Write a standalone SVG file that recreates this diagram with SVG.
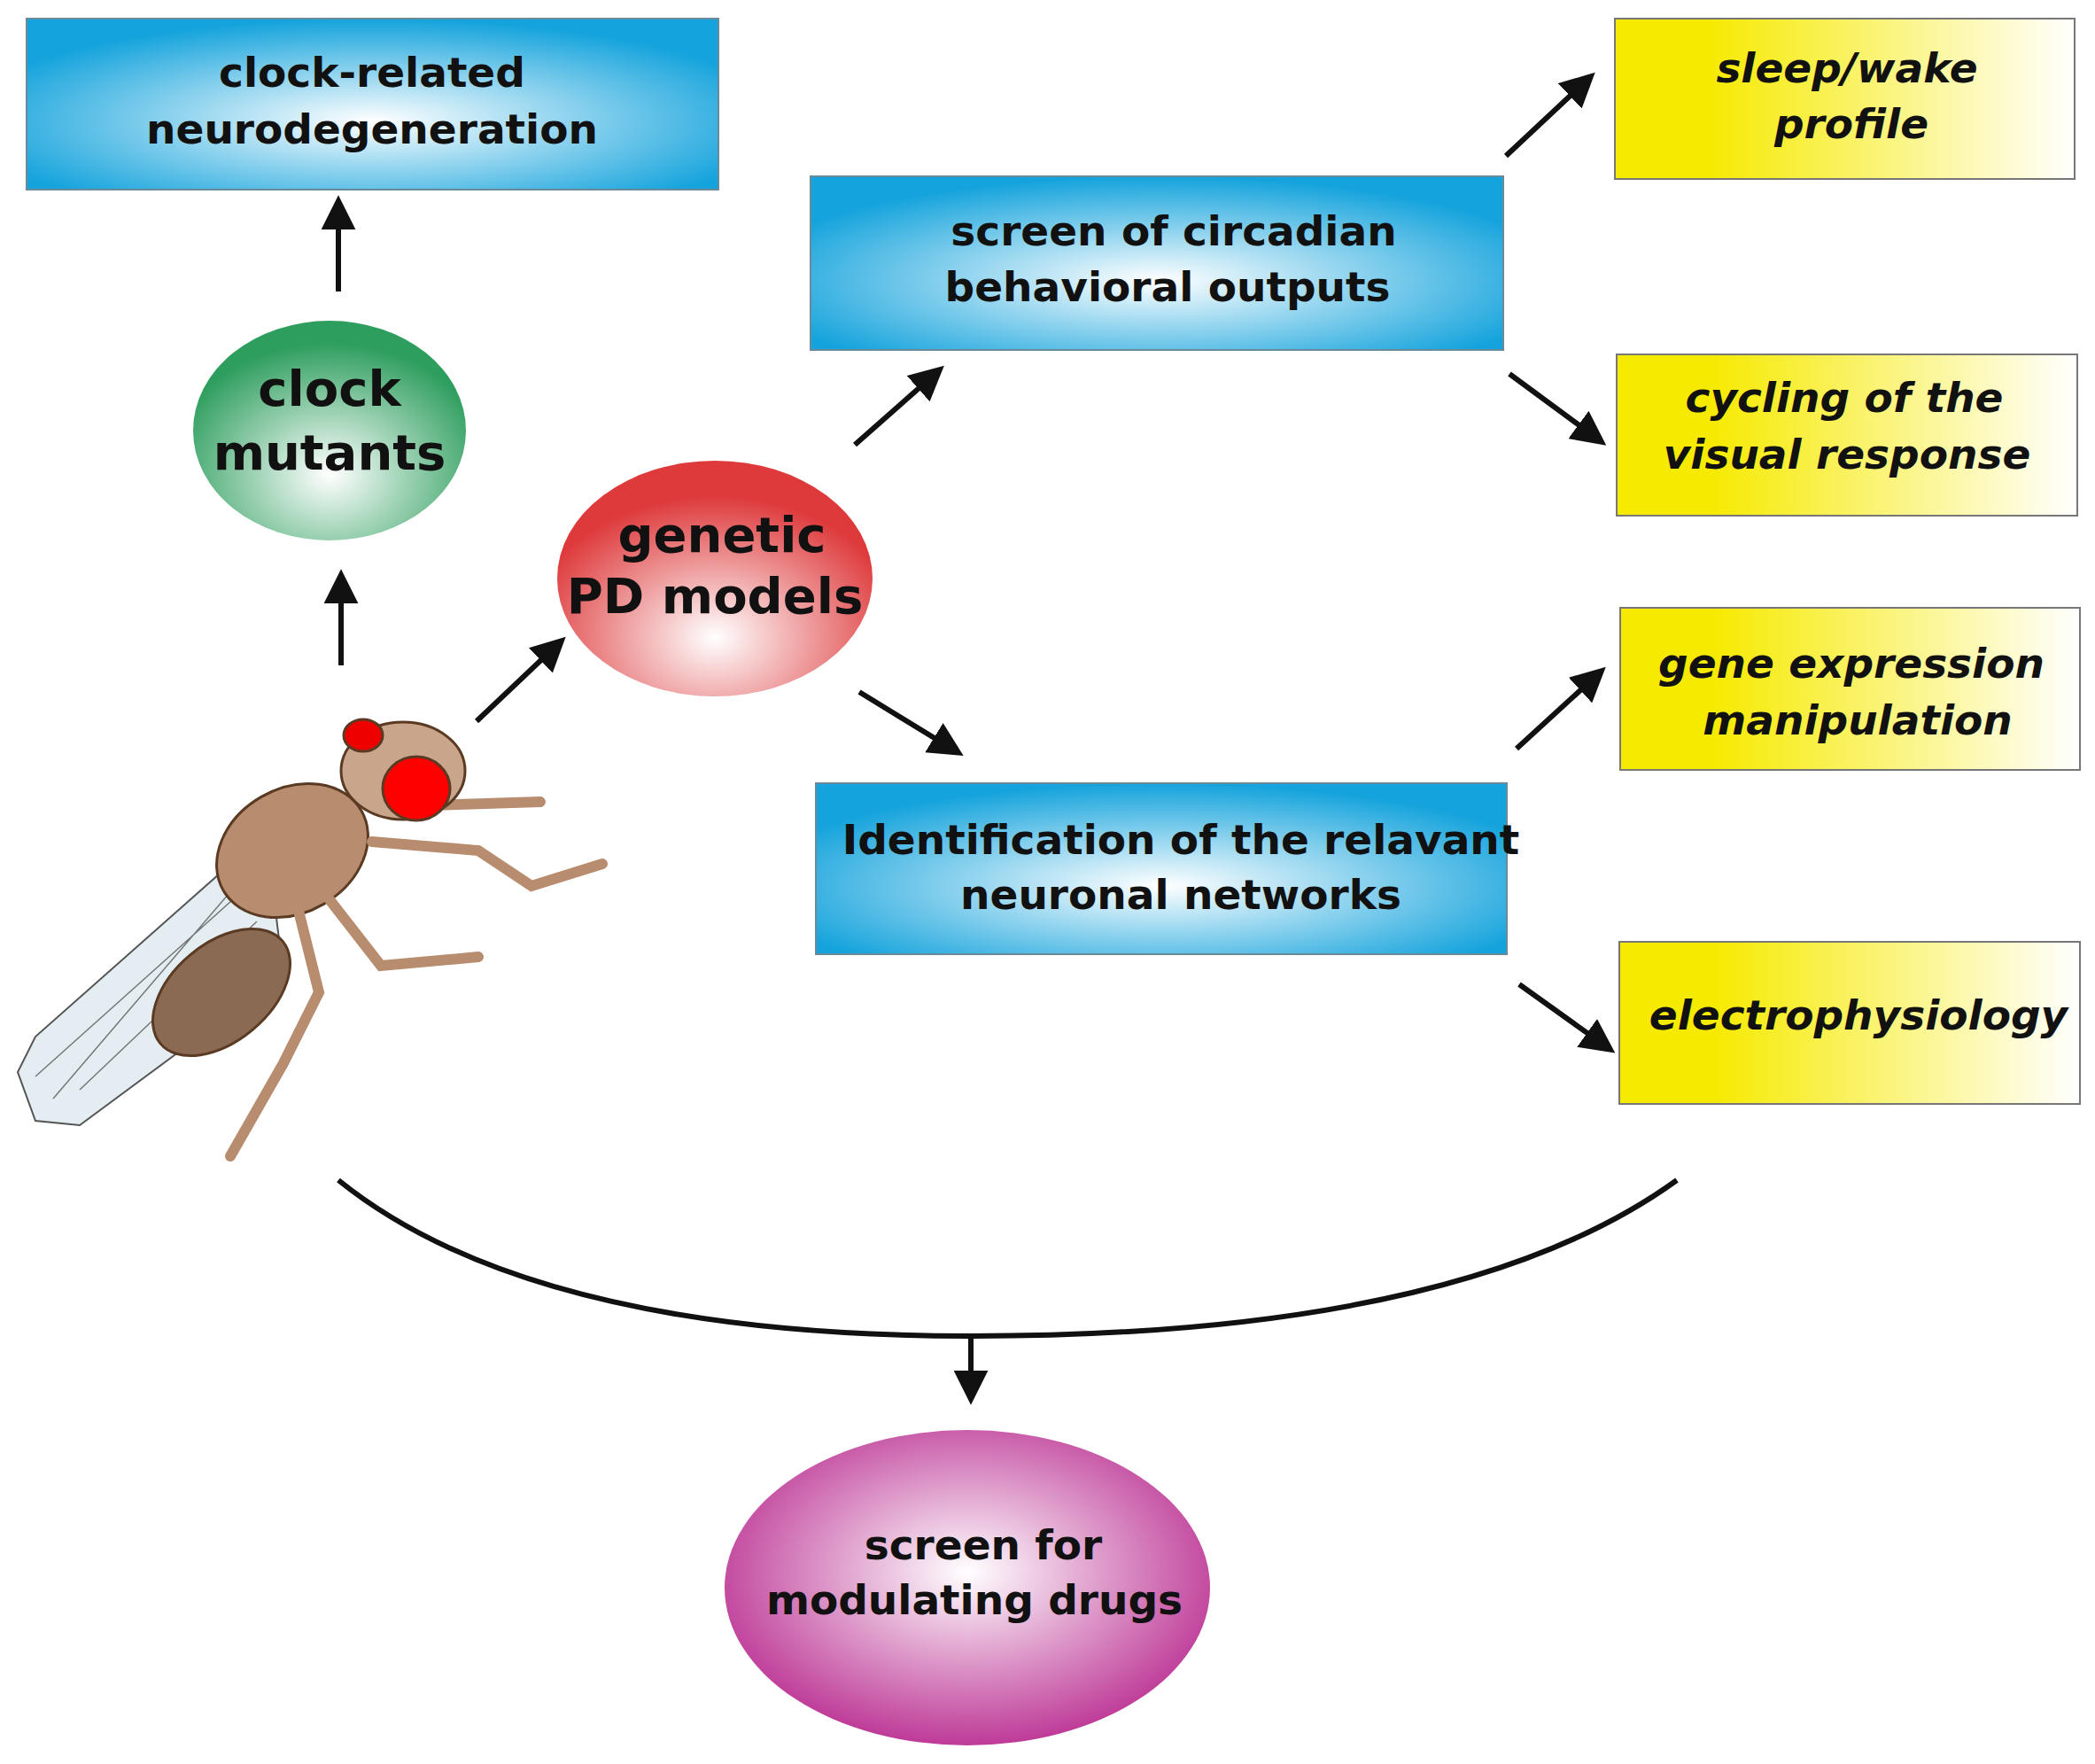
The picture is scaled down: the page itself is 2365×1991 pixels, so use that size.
<svg xmlns="http://www.w3.org/2000/svg" width="2365" height="1991" viewBox="0 0 2365 1991">
<style>
text{font-family:"DejaVu Sans",sans-serif;fill:#111;text-anchor:middle;font-weight:bold}
.t{font-size:47px}
.b{font-size:56px}
.i{font-size:47px;font-style:italic}
.box{stroke:#6a8a9a;stroke-width:2}
.ybox{stroke:#777;stroke-width:2}
.c path,.c line{stroke:#111;stroke-width:6;fill:none}
.c line{marker-end:url(#ah)}
</style>
<defs>
<marker id="ah" viewBox="0 0 10 10" refX="8" refY="5" markerWidth="6.5" markerHeight="6.5" orient="auto" markerUnits="strokeWidth"><path d="M0,0L10,5L0,10z" fill="#111"/></marker>
<radialGradient id="blue" cx="0.5" cy="0.6" r="0.6"><stop offset="0" stop-color="#fff"/><stop offset="1" stop-color="#14a3dc"/></radialGradient>
<linearGradient id="yel" x1="0" x2="1"><stop offset="0.2" stop-color="#f6ea00"/><stop offset="1" stop-color="#fff"/></linearGradient>
<radialGradient id="green" cx="0.5" cy="0.7" r="0.6"><stop offset="0" stop-color="#fff"/><stop offset="1" stop-color="#2e9e5e"/></radialGradient>
<radialGradient id="red" cx="0.5" cy="0.75" r="0.6"><stop offset="0" stop-color="#fff"/><stop offset="1" stop-color="#de3a3c"/></radialGradient>
<radialGradient id="pur" cx="0.5" cy="0.45" r="0.6"><stop offset="0" stop-color="#fff"/><stop offset="1" stop-color="#b8288e"/></radialGradient>
</defs>
<rect width="2365" height="1991" fill="#fff"/>
<g id="fly" stroke="#5a3a22" stroke-width="3">
<path d="M300,940 L40,1170 L20,1210 L40,1265 L90,1270 L320,1100 Z" fill="#e4eef2" stroke="#555" stroke-width="2"/>
<path d="M300,960 L60,1240 M280,1000 L40,1215 M290,1040 L90,1230" stroke="#777" stroke-width="1.5" fill="none"/>
<ellipse cx="250" cy="1120" rx="90" ry="55" transform="rotate(-40 250 1120)" fill="#8a6a52"/>
<ellipse cx="330" cy="960" rx="90" ry="70" transform="rotate(-30 330 960)" fill="#b88c6e"/>
<path d="M330,1000 L360,1120 L320,1200 L260,1305 M360,1000 L430,1090 L540,1080 M420,950 L540,960 L600,1000 L680,975 M450,910 L610,905" fill="none" stroke="#b88c6e" stroke-width="12" stroke-linecap="round"/>
<ellipse cx="455" cy="870" rx="70" ry="55" fill="#c9a58c"/>
<ellipse cx="410" cy="830" rx="22" ry="18" fill="#e00"/>
<ellipse cx="470" cy="890" rx="38" ry="36" fill="#f00"/>
</g>
<g id="n1"><rect class="box" x="30" y="21" width="781" height="193" fill="url(#blue)"/><text class="t" x="420" y="98">clock-related</text><text class="t" x="420" y="162">neurodegeneration</text></g>
<g id="n2"><ellipse cx="372" cy="486" rx="154" ry="124" fill="url(#green)"/><text class="b" x="372" y="458">clock</text><text class="b" x="372" y="530">mutants</text></g>
<g id="n3"><ellipse cx="807" cy="653" rx="178" ry="133" fill="url(#red)"/><text class="b" x="815" y="623">genetic</text><text class="b" x="807" y="692">PD models</text></g>
<g id="n4"><rect class="box" x="915" y="199" width="782" height="196" fill="url(#blue)"/><text class="t" x="1325" y="277">screen of circadian</text><text class="t" x="1318" y="340">behavioral outputs</text></g>
<g id="n5"><rect class="box" x="921" y="884" width="780" height="193" fill="url(#blue)"/><text class="t" x="1333" y="964">Identification of the relavant</text><text class="t" x="1333" y="1026">neuronal networks</text></g>
<g id="n6"><rect class="ybox" x="1823" y="21" width="519" height="181" fill="url(#yel)"/><text class="i" x="2085" y="93">sleep/wake</text><text class="i" x="2090" y="156">profile</text></g>
<g id="n7"><rect class="ybox" x="1825" y="400" width="520" height="182" fill="url(#yel)"/><text class="i" x="2082" y="465">cycling of the</text><text class="i" x="2085" y="529">visual response</text></g>
<g id="n8"><rect class="ybox" x="1829" y="686" width="519" height="183" fill="url(#yel)"/><text class="i" x="2090" y="765">gene expression</text><text class="i" x="2097" y="829">manipulation</text></g>
<g id="n9"><rect class="ybox" x="1828" y="1063" width="520" height="183" fill="url(#yel)"/><text class="i" x="2098" y="1162">electrophysiology</text></g>
<g id="n10"><ellipse cx="1092" cy="1792" rx="274" ry="178" fill="url(#pur)"/><text class="t" x="1110" y="1760">screen for</text><text class="t" x="1100" y="1822">modulating drugs</text></g>
<g class="c" id="connectors">
<line x1="382" y1="329" x2="382" y2="228"/>
<line x1="385" y1="751" x2="385" y2="650"/>
<line x1="538" y1="814" x2="633" y2="724"/>
<line x1="965" y1="502" x2="1060" y2="418"/>
<line x1="970" y1="781" x2="1081" y2="849"/>
<line x1="1700" y1="176" x2="1795" y2="87"/>
<line x1="1704" y1="422" x2="1807" y2="498"/>
<line x1="1712" y1="845" x2="1807" y2="758"/>
<line x1="1715" y1="1111" x2="1817" y2="1184"/>
<path d="M382,1332 Q600,1508 1096,1508 Q1650,1508 1893,1332"/>
<line x1="1096" y1="1508" x2="1096" y2="1578"/>
</g>
</svg>
